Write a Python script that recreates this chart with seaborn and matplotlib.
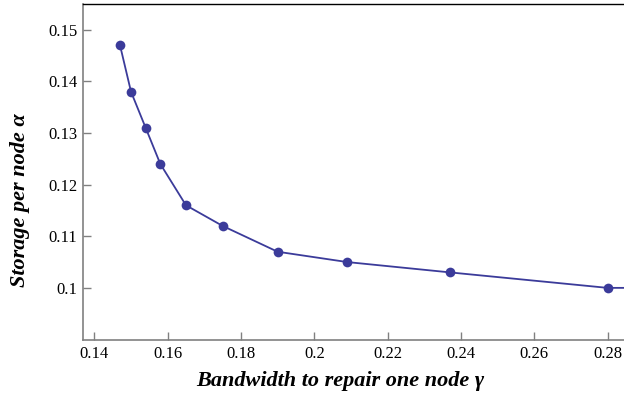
import matplotlib
matplotlib.use("Agg")
import matplotlib.pyplot as plt
import seaborn as sns
import pandas as pd

gamma = [0.147, 0.150, 0.154, 0.158, 0.165, 0.175, 0.190, 0.209, 0.237, 0.280, 0.300]
alpha = [0.147, 0.138, 0.131, 0.124, 0.116, 0.112, 0.107, 0.105, 0.103, 0.100, 0.100]
xticks = [0.14, 0.16, 0.18, 0.20, 0.22, 0.24, 0.26, 0.28]
xticklabels = ["0.14", "0.16", "0.18", "0.2", "0.22", "0.24", "0.26", "0.28"]
yticks = [0.10, 0.11, 0.12, 0.13, 0.14, 0.15]
yticklabels = ["0.1", "0.11", "0.12", "0.13", "0.14", "0.15"]

df = pd.DataFrame({"gamma": gamma, "alpha": alpha})

sns.set_theme(style="white")
plt.rcParams['font.family'] = ['Liberation Serif', 'DejaVu Serif']
plt.rcParams['text.color'] = 'black'
plt.rcParams['axes.labelcolor'] = 'black'

fig = plt.figure(figsize=(6.24, 3.99), dpi=100)
ax = fig.add_axes([83/624, 1 - 340/399, 1 - 83/624, (340 - 4)/399])
color = "#3b3b9a"
sns.lineplot(data=df, x="gamma", y="alpha", ax=ax, color=color, linewidth=1.3,
             marker="o", markersize=7, markeredgewidth=0, markeredgecolor=color,
             sort=False)

ax.set_xlim(0.1369, 0.2845)
ax.set_ylim(0.0899, 0.155)
ax.set_xticks(xticks)
ax.set_xticklabels(xticklabels)
ax.set_yticks(yticks)
ax.set_yticklabels(yticklabels)
ax.tick_params(axis="both", direction="in", length=6, width=1, color="#808080",
               labelsize=12, labelcolor="black", pad=4, left=True, bottom=True)
for s in ["left", "bottom"]:
    ax.spines[s].set_color("#808080")
    ax.spines[s].set_linewidth(1.2)
ax.spines["top"].set_color("black")
ax.spines["top"].set_linewidth(1.0)
ax.spines["right"].set_visible(False)

ax.set_xlabel("Bandwidth to repair one node γ", fontsize=16, fontweight="bold",
              fontstyle="italic", va="center")
ax.set_ylabel("Storage per node α", fontsize=16, fontweight="bold",
              fontstyle="italic", va="center")
ax.xaxis.set_label_coords((340 - 83) / 541, -(381 - 340) / 336)
ax.yaxis.set_label_coords((20 - 83) / 541, (340 - 200) / 336)

fig.savefig("out.png", dpi=100)
